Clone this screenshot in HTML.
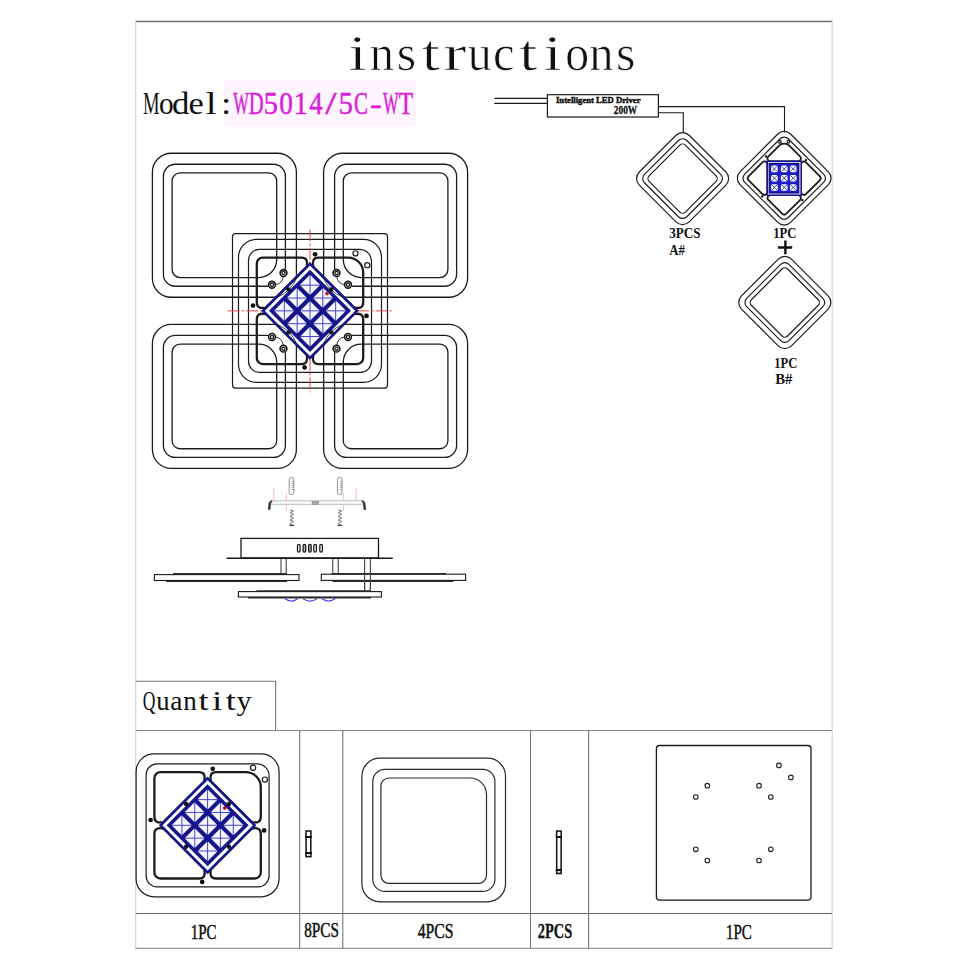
<!DOCTYPE html><html><head><meta charset="utf-8"><style>html,body{margin:0;padding:0;background:#fff;}svg{display:block;}</style></head><body>
<svg width="970" height="970" viewBox="0 0 970 970">
<rect width="970" height="970" fill="#fff"/>
<g fill="none">
<line x1="135.5" y1="21.5" x2="832.5" y2="21.5" stroke="#6e6e6e" stroke-width="1.3"/>
<line x1="135.7" y1="21" x2="135.7" y2="949" stroke="#d4d4d4" stroke-width="1.2"/>
<line x1="832.2" y1="21" x2="832.2" y2="949" stroke="#d8d8d8" stroke-width="1.2"/>
</g>
<text x="348.47" y="70.3" font-family="Liberation Serif, serif" font-weight="normal" font-size="51" textLength="18.52" lengthAdjust="spacingAndGlyphs" fill="#111" stroke="#fff" stroke-width="0.7">i</text><text x="369.84" y="70.3" font-family="Liberation Serif, serif" font-weight="normal" font-size="51" textLength="24.28" lengthAdjust="spacingAndGlyphs" fill="#111" stroke="#fff" stroke-width="0.7">n</text><text x="396.70" y="70.3" font-family="Liberation Serif, serif" font-weight="normal" font-size="51" textLength="19.46" lengthAdjust="spacingAndGlyphs" fill="#111" stroke="#fff" stroke-width="0.7">s</text><text x="421.76" y="70.3" font-family="Liberation Serif, serif" font-weight="normal" font-size="51" textLength="18.08" lengthAdjust="spacingAndGlyphs" fill="#111" stroke="#fff" stroke-width="0.7">t</text><text x="443.45" y="70.3" font-family="Liberation Serif, serif" font-weight="normal" font-size="51" textLength="22.95" lengthAdjust="spacingAndGlyphs" fill="#111" stroke="#fff" stroke-width="0.7">r</text><text x="467.85" y="70.3" font-family="Liberation Serif, serif" font-weight="normal" font-size="51" textLength="23.88" lengthAdjust="spacingAndGlyphs" fill="#111" stroke="#fff" stroke-width="0.7">u</text><text x="493.07" y="70.3" font-family="Liberation Serif, serif" font-weight="normal" font-size="51" textLength="21.64" lengthAdjust="spacingAndGlyphs" fill="#111" stroke="#fff" stroke-width="0.7">c</text><text x="519.28" y="70.3" font-family="Liberation Serif, serif" font-weight="normal" font-size="51" textLength="18.08" lengthAdjust="spacingAndGlyphs" fill="#111" stroke="#fff" stroke-width="0.7">t</text><text x="543.51" y="70.3" font-family="Liberation Serif, serif" font-weight="normal" font-size="51" textLength="18.52" lengthAdjust="spacingAndGlyphs" fill="#111" stroke="#fff" stroke-width="0.7">i</text><text x="565.27" y="70.3" font-family="Liberation Serif, serif" font-weight="normal" font-size="51" textLength="23.87" lengthAdjust="spacingAndGlyphs" fill="#111" stroke="#fff" stroke-width="0.7">o</text><text x="589.26" y="70.3" font-family="Liberation Serif, serif" font-weight="normal" font-size="51" textLength="24.28" lengthAdjust="spacingAndGlyphs" fill="#111" stroke="#fff" stroke-width="0.7">n</text><text x="616.12" y="70.3" font-family="Liberation Serif, serif" font-weight="normal" font-size="51" textLength="19.46" lengthAdjust="spacingAndGlyphs" fill="#111" stroke="#fff" stroke-width="0.7">s</text>
<rect x="224" y="80" width="192" height="46" fill="#fef5fe"/>
<text x="142.99" y="114.1" font-family="Liberation Serif, serif" font-weight="normal" font-size="31" textLength="16.51" lengthAdjust="spacingAndGlyphs" fill="#111">M</text><text x="158.89" y="114.1" font-family="Liberation Serif, serif" font-weight="normal" font-size="31" textLength="14.67" lengthAdjust="spacingAndGlyphs" fill="#111">o</text><text x="172.08" y="114.1" font-family="Liberation Serif, serif" font-weight="normal" font-size="31" textLength="17.41" lengthAdjust="spacingAndGlyphs" fill="#111">d</text><text x="188.47" y="114.1" font-family="Liberation Serif, serif" font-weight="normal" font-size="31" textLength="15.27" lengthAdjust="spacingAndGlyphs" fill="#111">e</text><text x="205.73" y="114.1" font-family="Liberation Serif, serif" font-weight="normal" font-size="31" textLength="10.85" lengthAdjust="spacingAndGlyphs" fill="#111">l</text><text x="221.05" y="114.1" font-family="Liberation Serif, serif" font-weight="normal" font-size="31" textLength="10.26" lengthAdjust="spacingAndGlyphs" fill="#111">:</text>
<text x="233.31" y="114.1" font-family="Liberation Serif, serif" font-weight="normal" font-size="31" textLength="15.63" lengthAdjust="spacingAndGlyphs" fill="#d81ed8" stroke="#d81ed8" stroke-width="0.5">W</text><text x="248.76" y="114.1" font-family="Liberation Serif, serif" font-weight="normal" font-size="31" textLength="14.90" lengthAdjust="spacingAndGlyphs" fill="#d81ed8" stroke="#d81ed8" stroke-width="0.5">D</text><text x="263.75" y="114.1" font-family="Liberation Serif, serif" font-weight="normal" font-size="31" textLength="14.13" lengthAdjust="spacingAndGlyphs" fill="#d81ed8" stroke="#d81ed8" stroke-width="0.5">5</text><text x="279.26" y="114.1" font-family="Liberation Serif, serif" font-weight="normal" font-size="31" textLength="13.61" lengthAdjust="spacingAndGlyphs" fill="#d81ed8" stroke="#d81ed8" stroke-width="0.5">0</text><text x="293.63" y="114.1" font-family="Liberation Serif, serif" font-weight="normal" font-size="31" textLength="14.04" lengthAdjust="spacingAndGlyphs" fill="#d81ed8" stroke="#d81ed8" stroke-width="0.5">1</text><text x="309.28" y="114.1" font-family="Liberation Serif, serif" font-weight="normal" font-size="31" textLength="13.37" lengthAdjust="spacingAndGlyphs" fill="#d81ed8" stroke="#d81ed8" stroke-width="0.5">4</text><text x="325.38" y="114.1" font-family="Liberation Serif, serif" font-weight="normal" font-size="31" textLength="11.23" lengthAdjust="spacingAndGlyphs" fill="#d81ed8" stroke="#d81ed8" stroke-width="0.5">/</text><text x="338.65" y="114.1" font-family="Liberation Serif, serif" font-weight="normal" font-size="31" textLength="14.13" lengthAdjust="spacingAndGlyphs" fill="#d81ed8" stroke="#d81ed8" stroke-width="0.5">5</text><text x="354.11" y="114.1" font-family="Liberation Serif, serif" font-weight="normal" font-size="31" textLength="14.00" lengthAdjust="spacingAndGlyphs" fill="#d81ed8" stroke="#d81ed8" stroke-width="0.5">C</text><text x="369.97" y="114.1" font-family="Liberation Serif, serif" font-weight="normal" font-size="31" textLength="11.91" lengthAdjust="spacingAndGlyphs" fill="#d81ed8" stroke="#d81ed8" stroke-width="0.5">-</text><text x="383.11" y="114.1" font-family="Liberation Serif, serif" font-weight="normal" font-size="31" textLength="15.63" lengthAdjust="spacingAndGlyphs" fill="#d81ed8" stroke="#d81ed8" stroke-width="0.5">W</text><text x="398.74" y="114.1" font-family="Liberation Serif, serif" font-weight="normal" font-size="31" textLength="14.29" lengthAdjust="spacingAndGlyphs" fill="#d81ed8" stroke="#d81ed8" stroke-width="0.5">T</text>
<g transform="translate(310.0,310.85)">
<path d="M-74.50,-77.20 L74.50,-77.20 A3,3 0 0 1 77.50,-74.20 L77.50,74.20 A3,3 0 0 1 74.50,77.20 L-74.50,77.20 A3,3 0 0 1 -77.50,74.20 L-77.50,-74.20 A3,3 0 0 1 -74.50,-77.20 Z" fill="none" stroke="#1c1c1c" stroke-width="1.2"/>
<path d="M-53.50,-71.50 L53.50,-71.50 A18,18 0 0 1 71.50,-53.50 L71.50,53.50 A18,18 0 0 1 53.50,71.50 L-53.50,71.50 A18,18 0 0 1 -71.50,53.50 L-71.50,-53.50 A18,18 0 0 1 -53.50,-71.50 Z" fill="none" stroke="#1c1c1c" stroke-width="1.20"/>
<path d="M-50.50,-61.50 L49.50,-61.50 A12,12 0 0 1 61.50,-49.50 L61.50,50.50 A11,11 0 0 1 50.50,61.50 L-50.50,61.50 A11,11 0 0 1 -61.50,50.50 L-61.50,-50.50 A11,11 0 0 1 -50.50,-61.50 Z" fill="none" stroke="#1c1c1c" stroke-width="1.20"/>
<path d="M-53.2,-9 L-53.2,-47.2 A6,6 0 0 1 -47.2,-53.2 L-8.5,-53.2 C-3.5,-53.2 -2.2,-50.2 -3.2,-44.099999999999994 L-44.099999999999994,-3.2 C-50.2,-2.2 -53.2,-3.5 -53.2,-8.5 Z" transform="scale(1,1)" fill="none" stroke="#1c1c1c" stroke-width="2.3"/>
<path d="M-53.2,-9 L-53.2,-38.2 A15,15 0 0 1 -38.2,-53.2 L-8.5,-53.2 C-3.5,-53.2 -2.2,-50.2 -3.2,-44.099999999999994 L-44.099999999999994,-3.2 C-50.2,-2.2 -53.2,-3.5 -53.2,-8.5 Z" transform="scale(-1,1)" fill="none" stroke="#1c1c1c" stroke-width="2.3"/>
<path d="M-53.2,-9 L-53.2,-47.2 A6,6 0 0 1 -47.2,-53.2 L-8.5,-53.2 C-3.5,-53.2 -2.2,-50.2 -3.2,-44.099999999999994 L-44.099999999999994,-3.2 C-50.2,-2.2 -53.2,-3.5 -53.2,-8.5 Z" transform="scale(1,-1)" fill="none" stroke="#1c1c1c" stroke-width="2.3"/>
<path d="M-53.2,-9 L-53.2,-47.2 A6,6 0 0 1 -47.2,-53.2 L-8.5,-53.2 C-3.5,-53.2 -2.2,-50.2 -3.2,-44.099999999999994 L-44.099999999999994,-3.2 C-50.2,-2.2 -53.2,-3.5 -53.2,-8.5 Z" transform="scale(-1,-1)" fill="none" stroke="#1c1c1c" stroke-width="2.3"/>
<circle cx="45.5" cy="-57.5" r="2.6" fill="#fff" stroke="#1c1c1c" stroke-width="1.20"/>
<circle cx="57.3" cy="-45.7" r="2.6" fill="#fff" stroke="#1c1c1c" stroke-width="1.20"/>
<g transform="scale(1,1)"><path d="M-138.60,-157.60 L-32.60,-157.60 A19,19 0 0 1 -13.60,-138.60 L-13.60,-32.60 A19,19 0 0 1 -32.60,-13.60 L-138.60,-13.60 A19,19 0 0 1 -157.60,-32.60 L-157.60,-138.60 A19,19 0 0 1 -138.60,-157.60 Z" fill="none" stroke="#1c1c1c" stroke-width="1.3"/>
<path d="M-24.60,-41.5 L-24.60,-134.60 A12,12 0 0 0 -36.60,-146.60 L-134.60,-146.60 A12,12 0 0 0 -146.60,-134.60 L-146.60,-36.60 A12,12 0 0 0 -134.60,-24.60 L-41.8,-24.60" fill="none" stroke="#1c1c1c" stroke-width="1.3"/>
<path d="M-129.90,-137.90 L-41.30,-137.90 A8,8 0 0 1 -33.30,-129.90 L-33.30,-51.30 A18,18 0 0 1 -51.30,-33.30 L-129.90,-33.30 A8,8 0 0 1 -137.90,-41.30 L-137.90,-129.90 A8,8 0 0 1 -129.90,-137.90 Z" fill="none" stroke="#1c1c1c" stroke-width="1.3"/>
<circle cx="-26.5" cy="-37.8" r="3.4" fill="#fff" stroke="#151515" stroke-width="1.6"/><circle cx="-26.5" cy="-37.8" r="1.6" fill="none" stroke="#1a1a1a" stroke-width="1.3"/>
<circle cx="-38" cy="-26.1" r="3.4" fill="#fff" stroke="#151515" stroke-width="1.6"/><circle cx="-38" cy="-26.1" r="1.6" fill="none" stroke="#1a1a1a" stroke-width="1.3"/>
<path d="M-26.8,-34.2 Q-27.5,-27.5 -34.4,-26.2" fill="none" stroke="#1c1c1c" stroke-width="0.9"/></g>
<g transform="scale(-1,1)"><path d="M-138.60,-157.60 L-32.60,-157.60 A19,19 0 0 1 -13.60,-138.60 L-13.60,-32.60 A19,19 0 0 1 -32.60,-13.60 L-138.60,-13.60 A19,19 0 0 1 -157.60,-32.60 L-157.60,-138.60 A19,19 0 0 1 -138.60,-157.60 Z" fill="none" stroke="#1c1c1c" stroke-width="1.3"/>
<path d="M-24.60,-41.5 L-24.60,-134.60 A12,12 0 0 0 -36.60,-146.60 L-134.60,-146.60 A12,12 0 0 0 -146.60,-134.60 L-146.60,-36.60 A12,12 0 0 0 -134.60,-24.60 L-41.8,-24.60" fill="none" stroke="#1c1c1c" stroke-width="1.3"/>
<path d="M-129.90,-137.90 L-41.30,-137.90 A8,8 0 0 1 -33.30,-129.90 L-33.30,-51.30 A18,18 0 0 1 -51.30,-33.30 L-129.90,-33.30 A8,8 0 0 1 -137.90,-41.30 L-137.90,-129.90 A8,8 0 0 1 -129.90,-137.90 Z" fill="none" stroke="#1c1c1c" stroke-width="1.3"/>
<circle cx="-26.5" cy="-37.8" r="3.4" fill="#fff" stroke="#151515" stroke-width="1.6"/><circle cx="-26.5" cy="-37.8" r="1.6" fill="none" stroke="#1a1a1a" stroke-width="1.3"/>
<circle cx="-38" cy="-26.1" r="3.4" fill="#fff" stroke="#151515" stroke-width="1.6"/><circle cx="-38" cy="-26.1" r="1.6" fill="none" stroke="#1a1a1a" stroke-width="1.3"/>
<path d="M-26.8,-34.2 Q-27.5,-27.5 -34.4,-26.2" fill="none" stroke="#1c1c1c" stroke-width="0.9"/></g>
<g transform="scale(1,-1)"><path d="M-138.60,-157.60 L-32.60,-157.60 A19,19 0 0 1 -13.60,-138.60 L-13.60,-32.60 A19,19 0 0 1 -32.60,-13.60 L-138.60,-13.60 A19,19 0 0 1 -157.60,-32.60 L-157.60,-138.60 A19,19 0 0 1 -138.60,-157.60 Z" fill="none" stroke="#1c1c1c" stroke-width="1.3"/>
<path d="M-24.60,-41.5 L-24.60,-134.60 A12,12 0 0 0 -36.60,-146.60 L-134.60,-146.60 A12,12 0 0 0 -146.60,-134.60 L-146.60,-36.60 A12,12 0 0 0 -134.60,-24.60 L-41.8,-24.60" fill="none" stroke="#1c1c1c" stroke-width="1.3"/>
<path d="M-129.90,-137.90 L-41.30,-137.90 A8,8 0 0 1 -33.30,-129.90 L-33.30,-51.30 A18,18 0 0 1 -51.30,-33.30 L-129.90,-33.30 A8,8 0 0 1 -137.90,-41.30 L-137.90,-129.90 A8,8 0 0 1 -129.90,-137.90 Z" fill="none" stroke="#1c1c1c" stroke-width="1.3"/>
<circle cx="-26.5" cy="-37.8" r="3.4" fill="#fff" stroke="#151515" stroke-width="1.6"/><circle cx="-26.5" cy="-37.8" r="1.6" fill="none" stroke="#1a1a1a" stroke-width="1.3"/>
<circle cx="-38" cy="-26.1" r="3.4" fill="#fff" stroke="#151515" stroke-width="1.6"/><circle cx="-38" cy="-26.1" r="1.6" fill="none" stroke="#1a1a1a" stroke-width="1.3"/>
<path d="M-26.8,-34.2 Q-27.5,-27.5 -34.4,-26.2" fill="none" stroke="#1c1c1c" stroke-width="0.9"/></g>
<g transform="scale(-1,-1)"><path d="M-138.60,-157.60 L-32.60,-157.60 A19,19 0 0 1 -13.60,-138.60 L-13.60,-32.60 A19,19 0 0 1 -32.60,-13.60 L-138.60,-13.60 A19,19 0 0 1 -157.60,-32.60 L-157.60,-138.60 A19,19 0 0 1 -138.60,-157.60 Z" fill="none" stroke="#1c1c1c" stroke-width="1.3"/>
<path d="M-24.60,-41.5 L-24.60,-134.60 A12,12 0 0 0 -36.60,-146.60 L-134.60,-146.60 A12,12 0 0 0 -146.60,-134.60 L-146.60,-36.60 A12,12 0 0 0 -134.60,-24.60 L-41.8,-24.60" fill="none" stroke="#1c1c1c" stroke-width="1.3"/>
<path d="M-129.90,-137.90 L-41.30,-137.90 A8,8 0 0 1 -33.30,-129.90 L-33.30,-51.30 A18,18 0 0 1 -51.30,-33.30 L-129.90,-33.30 A8,8 0 0 1 -137.90,-41.30 L-137.90,-129.90 A8,8 0 0 1 -129.90,-137.90 Z" fill="none" stroke="#1c1c1c" stroke-width="1.3"/>
<circle cx="-26.5" cy="-37.8" r="3.4" fill="#fff" stroke="#151515" stroke-width="1.6"/><circle cx="-26.5" cy="-37.8" r="1.6" fill="none" stroke="#1a1a1a" stroke-width="1.3"/>
<circle cx="-38" cy="-26.1" r="3.4" fill="#fff" stroke="#151515" stroke-width="1.6"/><circle cx="-38" cy="-26.1" r="1.6" fill="none" stroke="#1a1a1a" stroke-width="1.3"/>
<path d="M-26.8,-34.2 Q-27.5,-27.5 -34.4,-26.2" fill="none" stroke="#1c1c1c" stroke-width="0.9"/></g>
<path d="M-82.4,0 L81.7,0 M0,-81.5 L0,81.5" stroke="#e64444" stroke-width="1.0" stroke-dasharray="12,2,2.5,2" fill="none"/>
<path d="M0,-47.0 L47.0,0 L0,47.0 L-47.0,0 Z" fill="#fff" stroke="#16168a" stroke-width="2.6"/>
<path d="M0,-38.5 L38.5,0 L0,38.5 L-38.5,0 Z" fill="#f7f7ff" stroke="none"/>
<path d="M-12.83,-25.67 L12.83,-25.67 M-25.67,-12.83 L-25.67,12.83 M-25.67,-12.83 L25.67,-12.83 M-12.83,-25.67 L-12.83,25.67 M-38.50,0.00 L38.50,0.00 M0.00,-38.50 L0.00,38.50 M-25.67,12.83 L25.67,12.83 M12.83,-25.67 L12.83,25.67 M-12.83,25.67 L12.83,25.67 M25.67,-12.83 L25.67,12.83" stroke="#4444d8" stroke-width="1" fill="none"/>
<path d="M-25.67,-12.83 L12.83,25.67 M12.83,-25.67 L-25.67,12.83 M-12.83,-25.67 L25.67,12.83 M25.67,-12.83 L-12.83,25.67" stroke="#16168a" stroke-width="4.2" fill="none"/>
<path d="M0,-38.5 L38.5,0 L0,38.5 L-38.5,0 Z" fill="none" stroke="#16168a" stroke-width="3.6"/>
<path d="M-13.5,-33 Q-19,-19 -33,-13.5" transform="scale(1,1)" fill="none" stroke="#1c1c1c" stroke-width="0.8"/>
<path d="M-13.5,-33 Q-19,-19 -33,-13.5" transform="scale(-1,1)" fill="none" stroke="#1c1c1c" stroke-width="0.8"/>
<path d="M-13.5,-33 Q-19,-19 -33,-13.5" transform="scale(1,-1)" fill="none" stroke="#1c1c1c" stroke-width="0.8"/>
<path d="M-13.5,-33 Q-19,-19 -33,-13.5" transform="scale(-1,-1)" fill="none" stroke="#1c1c1c" stroke-width="0.8"/>
<circle cx="5.1" cy="-56.5" r="2.35" fill="#111"/>
<circle cx="-57" cy="-5.3" r="2.35" fill="#111"/>
<circle cx="56.5" cy="5.1" r="2.35" fill="#111"/>
<circle cx="-5.4" cy="56.6" r="2.35" fill="#111"/>
<circle cx="-21.5" cy="-21.3" r="2.2" fill="#111"/>
<circle cx="21.3" cy="-21.3" r="2.2" fill="#111"/>
<circle cx="-21.5" cy="21.5" r="2.2" fill="#111"/>
<circle cx="21.3" cy="21.5" r="2.2" fill="#111"/>
<circle cx="17" cy="-17.2" r="1.8" fill="#d01010"/>
</g>
<g>
<path d="M273.8,488 L273.8,501 M286.4,493 L286.4,511 M343.4,493 L343.4,511 M356.2,488 L356.2,501" stroke="#f2b0b0" stroke-width="0.8" fill="none"/>
<rect x="271" y="500.8" width="92" height="3.5" fill="#fafafa" stroke="#b8b8b8" stroke-width="0.9"/>
<rect x="312.1" y="501.4" width="6.5" height="3" fill="#a8a8a8" stroke="#888" stroke-width="0.6"/>
<path d="M271.5,500.3 L269,502.5 L268.3,509.8 L270.2,509.2 L270.6,503 L272,501.5 Z" fill="#333" stroke="#333" stroke-width="0.6"/>
<path d="M362.5,500.3 L365,502.5 L365.7,509.8 L363.8,509.2 L363.4,503 L362,501.5 Z" fill="#333" stroke="#333" stroke-width="0.6"/>
<rect x="289.2" y="477.4" width="4.6" height="17.2" rx="2.2" fill="#fff" stroke="#777" stroke-width="0.8"/>
<path d="M292.8,481 L292.8,491" stroke="#555" stroke-width="0.9" stroke-dasharray="1,1" fill="none"/>
<path d="M290.0,510 L293.5,511 L290.0,513 L293.5,514.5 L290.0,516.5 L293.5,518 L290.0,520 L293.5,521.5 L290.0,523.5 L292.5,525.5" stroke="#666" stroke-width="0.9" fill="none"/>
<path d="M289.3,525.3 L294.1,525.3" stroke="#333" stroke-width="1.2"/>
<rect x="337.4" y="477.4" width="4.6" height="17.2" rx="2.2" fill="#fff" stroke="#777" stroke-width="0.8"/>
<path d="M341.0,481 L341.0,491" stroke="#555" stroke-width="0.9" stroke-dasharray="1,1" fill="none"/>
<path d="M338.2,510 L341.7,511 L338.2,513 L341.7,514.5 L338.2,516.5 L341.7,518 L338.2,520 L341.7,521.5 L338.2,523.5 L340.7,525.5" stroke="#666" stroke-width="0.9" fill="none"/>
<path d="M337.5,525.3 L342.3,525.3" stroke="#333" stroke-width="1.2"/>
</g>
<g fill="none" stroke="#1a1a1a">
<rect x="241" y="538.4" width="137.5" height="19.6" fill="#fff" stroke-width="1.3"/>
<path d="M226.5,558.2 L392.8,558.2" stroke-width="1.6"/>
<rect x="297.5" y="544.4" width="2.6" height="7.8" rx="1.4" fill="#fff" stroke-width="1.3"/>
<rect x="303.1" y="544.4" width="2.6" height="7.8" rx="1.4" fill="#bbb" stroke-width="1.3"/>
<rect x="308.6" y="544.4" width="2.6" height="7.8" rx="1.4" fill="#bbb" stroke-width="1.3"/>
<rect x="313.8" y="544.4" width="2.6" height="7.8" rx="1.4" fill="#fff" stroke-width="1.3"/>
<rect x="319.8" y="544.4" width="2.6" height="7.8" rx="1.4" fill="#fff" stroke-width="1.3"/>
<path d="M281,559 L281,574 M286.2,559 L286.2,574" stroke="#444" stroke-width="1.1"/>
<path d="M332.8,559 L332.8,574 M338.2,559 L338.2,574" stroke="#444" stroke-width="1.1"/>
<path d="M364.6,559 L364.6,591.5 M370.4,559 L370.4,591.5" stroke="#444" stroke-width="1.1"/>
<rect x="154.4" y="574.6" width="144.6" height="5.9" fill="#fff" stroke-width="1.1"/>
<path d="M173,573.8 L287,573.8 M166,581.4 L287,581.4" stroke="#2a2a2a" stroke-width="1.4"/>
<rect x="321.3" y="574.2" width="144.3" height="6.2" fill="#fff" stroke-width="1.1"/>
<path d="M331.6,573.8 L446,573.8 M332.5,581.4 L453.3,581.4" stroke="#2a2a2a" stroke-width="1.4"/>
<path d="M364.6,574 L364.6,591.5 M370.4,574 L370.4,591.5" stroke="#444" stroke-width="1.1"/>
<rect x="238.4" y="591.6" width="143" height="5.4" fill="#fff" stroke-width="1.1"/>
<path d="M256.4,590.9 L370.2,590.9 M248,597.8 L371,597.8" stroke="#2a2a2a" stroke-width="1.4"/>
<path d="M284.4,598.3 Q291,603.5 298,598.8 M303,598.8 Q310,603.5 317,598.8 M322,598.8 Q329,603.5 335.6,598.3" stroke="#4848e0" stroke-width="1.2"/>
</g>
<g fill="none" stroke="#1a1a1a" stroke-width="1.1">
<path d="M494.3,98.4 L547.4,98.4 M494.3,103.4 L547.4,103.4"/>
<rect x="547.4" y="94.7" width="111" height="22.3" fill="#fff" stroke-width="1.2"/>
<path d="M658.4,106.6 L784.5,106.6 L784.5,132.5 M658.4,112.7 L683.3,112.7 L683.3,133"/>
</g>
<text x="556" y="103.2" font-family="Liberation Serif, serif" font-weight="bold" font-size="8.6" textLength="84.5" lengthAdjust="spacingAndGlyphs" fill="#111" stroke="#111" stroke-width="0.45">Intelligent LED Driver</text>
<text x="613.8" y="114.2" font-family="Liberation Serif, serif" font-weight="bold" font-size="12.8" stroke="#111" stroke-width="0.3" textLength="23.4" lengthAdjust="spacingAndGlyphs" fill="#111">200W</text>
<g transform="translate(682.6,178.6) rotate(45) scale(0.49)" fill="none" stroke="#1c1c1c" stroke-width="2.4"><path d="M-53.00,-72.00 L53.00,-72.00 A19,19 0 0 1 72.00,-53.00 L72.00,53.00 A19,19 0 0 1 53.00,72.00 L-53.00,72.00 A19,19 0 0 1 -72.00,53.00 L-72.00,-53.00 A19,19 0 0 1 -53.00,-72.00 Z" /><path d="M-49.00,-61.00 L49.00,-61.00 A12,12 0 0 1 61.00,-49.00 L61.00,49.00 A12,12 0 0 1 49.00,61.00 L-49.00,61.00 A12,12 0 0 1 -61.00,49.00 L-61.00,-49.00 A12,12 0 0 1 -49.00,-61.00 Z" /><path d="M-44.30,-52.30 L44.30,-52.30 A8,8 0 0 1 52.30,-44.30 L52.30,44.30 A8,8 0 0 1 44.30,52.30 L-44.30,52.30 A8,8 0 0 1 -52.30,44.30 L-52.30,-44.30 A8,8 0 0 1 -44.30,-52.30 Z" /></g>
<g transform="translate(784.8,302.5) rotate(45) scale(0.49)" fill="none" stroke="#1c1c1c" stroke-width="2.4"><path d="M-53.00,-72.00 L53.00,-72.00 A19,19 0 0 1 72.00,-53.00 L72.00,53.00 A19,19 0 0 1 53.00,72.00 L-53.00,72.00 A19,19 0 0 1 -72.00,53.00 L-72.00,-53.00 A19,19 0 0 1 -53.00,-72.00 Z" /><path d="M-49.00,-61.00 L49.00,-61.00 A12,12 0 0 1 61.00,-49.00 L61.00,49.00 A12,12 0 0 1 49.00,61.00 L-49.00,61.00 A12,12 0 0 1 -61.00,49.00 L-61.00,-49.00 A12,12 0 0 1 -49.00,-61.00 Z" /><path d="M-44.30,-52.30 L44.30,-52.30 A8,8 0 0 1 52.30,-44.30 L52.30,44.30 A8,8 0 0 1 44.30,52.30 L-44.30,52.30 A8,8 0 0 1 -52.30,44.30 L-52.30,-44.30 A8,8 0 0 1 -44.30,-52.30 Z" /></g>
<g transform="translate(784.2,178.2)">
<g transform="rotate(-45) scale(0.5)"><path d="M-53.50,-71.50 L53.50,-71.50 A18,18 0 0 1 71.50,-53.50 L71.50,53.50 A18,18 0 0 1 53.50,71.50 L-53.50,71.50 A18,18 0 0 1 -71.50,53.50 L-71.50,-53.50 A18,18 0 0 1 -53.50,-71.50 Z" fill="none" stroke="#1c1c1c" stroke-width="2.40"/>
<path d="M-50.50,-61.50 L49.50,-61.50 A12,12 0 0 1 61.50,-49.50 L61.50,50.50 A11,11 0 0 1 50.50,61.50 L-50.50,61.50 A11,11 0 0 1 -61.50,50.50 L-61.50,-50.50 A11,11 0 0 1 -50.50,-61.50 Z" fill="none" stroke="#1c1c1c" stroke-width="2.40"/>
<path d="M-53.2,-9 L-53.2,-47.2 A6,6 0 0 1 -47.2,-53.2 L-8.5,-53.2 C-3.5,-53.2 -2.2,-50.2 -3.2,-44.099999999999994 L-44.099999999999994,-3.2 C-50.2,-2.2 -53.2,-3.5 -53.2,-8.5 Z" transform="scale(1,1)" fill="none" stroke="#1c1c1c" stroke-width="3.6"/>
<path d="M-53.2,-9 L-53.2,-38.2 A15,15 0 0 1 -38.2,-53.2 L-8.5,-53.2 C-3.5,-53.2 -2.2,-50.2 -3.2,-44.099999999999994 L-44.099999999999994,-3.2 C-50.2,-2.2 -53.2,-3.5 -53.2,-8.5 Z" transform="scale(-1,1)" fill="none" stroke="#1c1c1c" stroke-width="3.6"/>
<path d="M-53.2,-9 L-53.2,-47.2 A6,6 0 0 1 -47.2,-53.2 L-8.5,-53.2 C-3.5,-53.2 -2.2,-50.2 -3.2,-44.099999999999994 L-44.099999999999994,-3.2 C-50.2,-2.2 -53.2,-3.5 -53.2,-8.5 Z" transform="scale(1,-1)" fill="none" stroke="#1c1c1c" stroke-width="3.6"/>
<path d="M-53.2,-9 L-53.2,-47.2 A6,6 0 0 1 -47.2,-53.2 L-8.5,-53.2 C-3.5,-53.2 -2.2,-50.2 -3.2,-44.099999999999994 L-44.099999999999994,-3.2 C-50.2,-2.2 -53.2,-3.5 -53.2,-8.5 Z" transform="scale(-1,-1)" fill="none" stroke="#1c1c1c" stroke-width="3.6"/>
<circle cx="45.5" cy="-57.5" r="2.6" fill="#fff" stroke="#1c1c1c" stroke-width="2.40"/>
<circle cx="57.3" cy="-45.7" r="2.6" fill="#fff" stroke="#1c1c1c" stroke-width="2.40"/><circle cx="5.1" cy="-56.5" r="2.35" fill="#111"/>
<circle cx="-57" cy="-5.3" r="2.35" fill="#111"/>
<circle cx="56.5" cy="5.1" r="2.35" fill="#111"/>
<circle cx="-5.4" cy="56.6" r="2.35" fill="#111"/>
<circle cx="-21.5" cy="-21.3" r="2.2" fill="#111"/>
<circle cx="21.3" cy="-21.3" r="2.2" fill="#111"/>
<circle cx="-21.5" cy="21.5" r="2.2" fill="#111"/>
<circle cx="21.3" cy="21.5" r="2.2" fill="#111"/>
<circle cx="17" cy="-17.2" r="1.8" fill="#d01010"/></g>
<rect x="-17" y="-17" width="34" height="34" fill="#fff" stroke="#16168a" stroke-width="1.6"/><rect x="-15" y="-14.8" width="29.6" height="29.6" fill="#1c1cc8" stroke="#0c0c80" stroke-width="1.2"/><rect x="-13.1" y="-12.6" width="6.6" height="6.6" rx="1.5" fill="#fff"/><path d="M-12.4,-11.9 L-7.2,-6.7 M-7.2,-11.9 L-12.4,-6.7" stroke="#2a2aa0" stroke-width="0.9"/><rect x="-3.3" y="-12.6" width="6.6" height="6.6" rx="1.5" fill="#fff"/><path d="M-2.6,-11.9 L2.6,-6.7 M2.6,-11.9 L-2.6,-6.7" stroke="#2a2aa0" stroke-width="0.9"/><rect x="5.7" y="-12.6" width="6.6" height="6.6" rx="1.5" fill="#fff"/><path d="M6.4,-11.9 L11.6,-6.7 M11.6,-11.9 L6.4,-6.7" stroke="#2a2aa0" stroke-width="0.9"/><rect x="-13.1" y="-3.3" width="6.6" height="6.6" rx="1.5" fill="#fff"/><path d="M-12.4,-2.6 L-7.2,2.6 M-7.2,-2.6 L-12.4,2.6" stroke="#2a2aa0" stroke-width="0.9"/><rect x="-3.3" y="-3.3" width="6.6" height="6.6" rx="1.5" fill="#fff"/><path d="M-2.6,-2.6 L2.6,2.6 M2.6,-2.6 L-2.6,2.6" stroke="#2a2aa0" stroke-width="0.9"/><rect x="5.7" y="-3.3" width="6.6" height="6.6" rx="1.5" fill="#fff"/><path d="M6.4,-2.6 L11.6,2.6 M11.6,-2.6 L6.4,2.6" stroke="#2a2aa0" stroke-width="0.9"/><rect x="-13.1" y="6.0" width="6.6" height="6.6" rx="1.5" fill="#fff"/><path d="M-12.4,6.7 L-7.2,11.9 M-7.2,6.7 L-12.4,11.9" stroke="#2a2aa0" stroke-width="0.9"/><rect x="-3.3" y="6.0" width="6.6" height="6.6" rx="1.5" fill="#fff"/><path d="M-2.6,6.7 L2.6,11.9 M2.6,6.7 L-2.6,11.9" stroke="#2a2aa0" stroke-width="0.9"/><rect x="5.7" y="6.0" width="6.6" height="6.6" rx="1.5" fill="#fff"/><path d="M6.4,6.7 L11.6,11.9 M11.6,6.7 L6.4,11.9" stroke="#2a2aa0" stroke-width="0.9"/>
</g>
<path d="M785.4,240.4 L785.4,254.3 M778,247.5 L792.2,247.5" stroke="#111" stroke-width="2.4"/>
<text x="669.3" y="238.3" font-family="Liberation Serif, serif" font-weight="bold" font-size="15.5" textLength="31.3" lengthAdjust="spacingAndGlyphs" fill="#111">3PCS</text>
<text x="669.3" y="255.1" font-family="Liberation Serif, serif" font-weight="bold" font-size="15.5" textLength="15.7" lengthAdjust="spacingAndGlyphs" fill="#111">A#</text>
<text x="773.2" y="237.8" font-family="Liberation Serif, serif" font-weight="bold" font-size="15.5" textLength="23.2" lengthAdjust="spacingAndGlyphs" fill="#111">1PC</text>
<text x="774.2" y="367.6" font-family="Liberation Serif, serif" font-weight="bold" font-size="15.5" textLength="23.1" lengthAdjust="spacingAndGlyphs" fill="#111">1PC</text>
<text x="775.2" y="384.3" font-family="Liberation Serif, serif" font-weight="bold" font-size="15.5" textLength="17.2" lengthAdjust="spacingAndGlyphs" fill="#111">B#</text>
<g fill="none">
<path d="M135.7,681.3 L275.6,681.3 L275.6,730.6" stroke="#777" stroke-width="1.1"/>
<path d="M135.7,730.5 L832.2,730.5" stroke="#888" stroke-width="1.1"/>
<path d="M135.7,913.5 L832.2,913.5" stroke="#666" stroke-width="1.1"/>
<path d="M135.7,948.4 L832.2,948.4" stroke="#999" stroke-width="1.1"/>
<path d="M299.7,730.5 L299.7,948.4 M342.8,730.5 L342.8,948.4 M530.5,730.5 L530.5,948.4 M588.6,730.5 L588.6,948.4" stroke="#777" stroke-width="1.1"/>
</g>
<text x="142.83" y="709.8" font-family="Liberation Serif, serif" font-weight="normal" font-size="28" textLength="12.69" lengthAdjust="spacingAndGlyphs" fill="#111">Q</text><text x="156.36" y="709.8" font-family="Liberation Serif, serif" font-weight="normal" font-size="28" textLength="13.29" lengthAdjust="spacingAndGlyphs" fill="#111">u</text><text x="170.13" y="709.8" font-family="Liberation Serif, serif" font-weight="normal" font-size="28" textLength="12.20" lengthAdjust="spacingAndGlyphs" fill="#111">a</text><text x="183.23" y="709.8" font-family="Liberation Serif, serif" font-weight="normal" font-size="28" textLength="13.51" lengthAdjust="spacingAndGlyphs" fill="#111">n</text><text x="198.56" y="709.8" font-family="Liberation Serif, serif" font-weight="normal" font-size="28" textLength="10.07" lengthAdjust="spacingAndGlyphs" fill="#111">t</text><text x="212.05" y="709.8" font-family="Liberation Serif, serif" font-weight="normal" font-size="28" textLength="10.31" lengthAdjust="spacingAndGlyphs" fill="#111">i</text><text x="225.70" y="709.8" font-family="Liberation Serif, serif" font-weight="normal" font-size="28" textLength="10.07" lengthAdjust="spacingAndGlyphs" fill="#111">t</text><text x="236.89" y="709.8" font-family="Liberation Serif, serif" font-weight="normal" font-size="28" textLength="14.72" lengthAdjust="spacingAndGlyphs" fill="#111">y</text>
<text x="190.8" y="939" font-family="Liberation Serif, serif" font-weight="normal" font-size="20" textLength="25.8" lengthAdjust="spacingAndGlyphs" fill="#111" stroke="#111" stroke-width="0.5">1PC</text>
<text x="304.2" y="937.4" font-family="Liberation Serif, serif" font-weight="normal" font-size="20" textLength="34.8" lengthAdjust="spacingAndGlyphs" fill="#111" stroke="#111" stroke-width="0.5">8PCS</text>
<text x="417.7" y="937.5" font-family="Liberation Serif, serif" font-weight="normal" font-size="20" textLength="35.7" lengthAdjust="spacingAndGlyphs" fill="#111" stroke="#111" stroke-width="0.5">4PCS</text>
<text x="537.8" y="937.6" font-family="Liberation Serif, serif" font-weight="bold" font-size="20" textLength="34.4" lengthAdjust="spacingAndGlyphs" fill="#111" stroke="#111" stroke-width="0.3">2PCS</text>
<text x="726" y="938.5" font-family="Liberation Serif, serif" font-weight="normal" font-size="20" textLength="25.8" lengthAdjust="spacingAndGlyphs" fill="#111" stroke="#111" stroke-width="0.5">1PC</text>
<g transform="translate(207.6,825.3)">
<path d="M-53.50,-71.50 L53.50,-71.50 A18,18 0 0 1 71.50,-53.50 L71.50,53.50 A18,18 0 0 1 53.50,71.50 L-53.50,71.50 A18,18 0 0 1 -71.50,53.50 L-71.50,-53.50 A18,18 0 0 1 -53.50,-71.50 Z" fill="none" stroke="#1c1c1c" stroke-width="1.20"/>
<path d="M-50.50,-61.50 L49.50,-61.50 A12,12 0 0 1 61.50,-49.50 L61.50,50.50 A11,11 0 0 1 50.50,61.50 L-50.50,61.50 A11,11 0 0 1 -61.50,50.50 L-61.50,-50.50 A11,11 0 0 1 -50.50,-61.50 Z" fill="none" stroke="#1c1c1c" stroke-width="1.20"/>
<path d="M-53.2,-9 L-53.2,-47.2 A6,6 0 0 1 -47.2,-53.2 L-8.5,-53.2 C-3.5,-53.2 -2.2,-50.2 -3.2,-44.099999999999994 L-44.099999999999994,-3.2 C-50.2,-2.2 -53.2,-3.5 -53.2,-8.5 Z" transform="scale(1,1)" fill="none" stroke="#1c1c1c" stroke-width="2.3"/>
<path d="M-53.2,-9 L-53.2,-38.2 A15,15 0 0 1 -38.2,-53.2 L-8.5,-53.2 C-3.5,-53.2 -2.2,-50.2 -3.2,-44.099999999999994 L-44.099999999999994,-3.2 C-50.2,-2.2 -53.2,-3.5 -53.2,-8.5 Z" transform="scale(-1,1)" fill="none" stroke="#1c1c1c" stroke-width="2.3"/>
<path d="M-53.2,-9 L-53.2,-47.2 A6,6 0 0 1 -47.2,-53.2 L-8.5,-53.2 C-3.5,-53.2 -2.2,-50.2 -3.2,-44.099999999999994 L-44.099999999999994,-3.2 C-50.2,-2.2 -53.2,-3.5 -53.2,-8.5 Z" transform="scale(1,-1)" fill="none" stroke="#1c1c1c" stroke-width="2.3"/>
<path d="M-53.2,-9 L-53.2,-47.2 A6,6 0 0 1 -47.2,-53.2 L-8.5,-53.2 C-3.5,-53.2 -2.2,-50.2 -3.2,-44.099999999999994 L-44.099999999999994,-3.2 C-50.2,-2.2 -53.2,-3.5 -53.2,-8.5 Z" transform="scale(-1,-1)" fill="none" stroke="#1c1c1c" stroke-width="2.3"/>
<circle cx="45.5" cy="-57.5" r="2.6" fill="#fff" stroke="#1c1c1c" stroke-width="1.20"/>
<circle cx="57.3" cy="-45.7" r="2.6" fill="#fff" stroke="#1c1c1c" stroke-width="1.20"/>
<path d="M0,-47.0 L47.0,0 L0,47.0 L-47.0,0 Z" fill="#fff" stroke="#16168a" stroke-width="2.6"/>
<path d="M0,-38.5 L38.5,0 L0,38.5 L-38.5,0 Z" fill="#f7f7ff" stroke="none"/>
<path d="M-12.83,-25.67 L12.83,-25.67 M-25.67,-12.83 L-25.67,12.83 M-25.67,-12.83 L25.67,-12.83 M-12.83,-25.67 L-12.83,25.67 M-38.50,0.00 L38.50,0.00 M0.00,-38.50 L0.00,38.50 M-25.67,12.83 L25.67,12.83 M12.83,-25.67 L12.83,25.67 M-12.83,25.67 L12.83,25.67 M25.67,-12.83 L25.67,12.83" stroke="#4444d8" stroke-width="1" fill="none"/>
<path d="M-25.67,-12.83 L12.83,25.67 M12.83,-25.67 L-25.67,12.83 M-12.83,-25.67 L25.67,12.83 M25.67,-12.83 L-12.83,25.67" stroke="#16168a" stroke-width="4.2" fill="none"/>
<path d="M0,-38.5 L38.5,0 L0,38.5 L-38.5,0 Z" fill="none" stroke="#16168a" stroke-width="3.6"/>
<circle cx="5.1" cy="-56.5" r="2.35" fill="#111"/>
<circle cx="-57" cy="-5.3" r="2.35" fill="#111"/>
<circle cx="56.5" cy="5.1" r="2.35" fill="#111"/>
<circle cx="-5.4" cy="56.6" r="2.35" fill="#111"/>
<circle cx="-21.5" cy="-21.3" r="2.2" fill="#111"/>
<circle cx="21.3" cy="-21.3" r="2.2" fill="#111"/>
<circle cx="-21.5" cy="21.5" r="2.2" fill="#111"/>
<circle cx="21.3" cy="21.5" r="2.2" fill="#111"/>
<circle cx="17" cy="-17.2" r="1.8" fill="#d01010"/>
</g>
<g fill="#fff" stroke="#111" stroke-width="1.5"><rect x="306.1" y="837" width="4.7" height="16.2"/><rect x="306.0" y="831" width="4.9" height="6"/><rect x="306.0" y="852.9" width="4.9" height="3.8" fill="#ddd"/><path d="M305.2,837 L311.7,837 M305.2,853.1 L311.7,853.1" stroke-width="2"/></g>
<g fill="#fff" stroke="#111" stroke-width="1.5"><rect x="556.7" y="837.1" width="4.4" height="32.9"/><rect x="556.6" y="831.1" width="4.6" height="6"/><rect x="556.6" y="869.7" width="4.6" height="3.8" fill="#ddd"/><path d="M555.8000000000001,837.1 L562.0,837.1 M555.8000000000001,869.9 L562.0,869.9" stroke-width="2"/></g>
<g fill="none" stroke="#2a2a2a" stroke-width="1.2">
<path d="M379.90,758.20 L487.50,758.20 A18,18 0 0 1 505.50,776.20 L505.50,883.80 A18,18 0 0 1 487.50,901.80 L379.90,901.80 A18,18 0 0 1 361.90,883.80 L361.90,776.20 A18,18 0 0 1 379.90,758.20 Z"/>
<path d="M384.80,769.30 L482.90,769.30 A12,12 0 0 1 494.90,781.30 L494.90,879.40 A12,12 0 0 1 482.90,891.40 L384.80,891.40 A12,12 0 0 1 372.80,879.40 L372.80,781.30 A12,12 0 0 1 384.80,769.30 Z"/>
<path d="M388.90,778.00 L470.00,778.00 A16.5,16.5 0 0 1 486.50,794.50 L486.50,875.30 A8,8 0 0 1 478.50,883.30 L388.90,883.30 A8,8 0 0 1 380.90,875.30 L380.90,786.00 A8,8 0 0 1 388.90,778.00 Z"/>
</g>
<path d="M659.40,745.50 L808.00,745.50 A3,3 0 0 1 811.00,748.50 L811.00,897.20 A3,3 0 0 1 808.00,900.20 L659.40,900.20 A3,3 0 0 1 656.40,897.20 L656.40,748.50 A3,3 0 0 1 659.40,745.50 Z" fill="none" stroke="#1a1a1a" stroke-width="1.3"/>
<circle cx="778.9" cy="765.4" r="2.3" fill="#fff" stroke="#222" stroke-width="1.1"/>
<circle cx="790.9" cy="777.4" r="2.3" fill="#fff" stroke="#222" stroke-width="1.1"/>
<circle cx="707.3" cy="785.7" r="2.3" fill="#fff" stroke="#222" stroke-width="1.1"/>
<circle cx="695.8" cy="797.0" r="2.3" fill="#fff" stroke="#222" stroke-width="1.1"/>
<circle cx="759.0" cy="785.7" r="2.3" fill="#fff" stroke="#222" stroke-width="1.1"/>
<circle cx="770.8" cy="797.0" r="2.3" fill="#fff" stroke="#222" stroke-width="1.1"/>
<circle cx="695.8" cy="849.3" r="2.3" fill="#fff" stroke="#222" stroke-width="1.1"/>
<circle cx="707.3" cy="860.5" r="2.3" fill="#fff" stroke="#222" stroke-width="1.1"/>
<circle cx="759.0" cy="860.5" r="2.3" fill="#fff" stroke="#222" stroke-width="1.1"/>
<circle cx="770.8" cy="849.3" r="2.3" fill="#fff" stroke="#222" stroke-width="1.1"/>
</svg></body></html>
